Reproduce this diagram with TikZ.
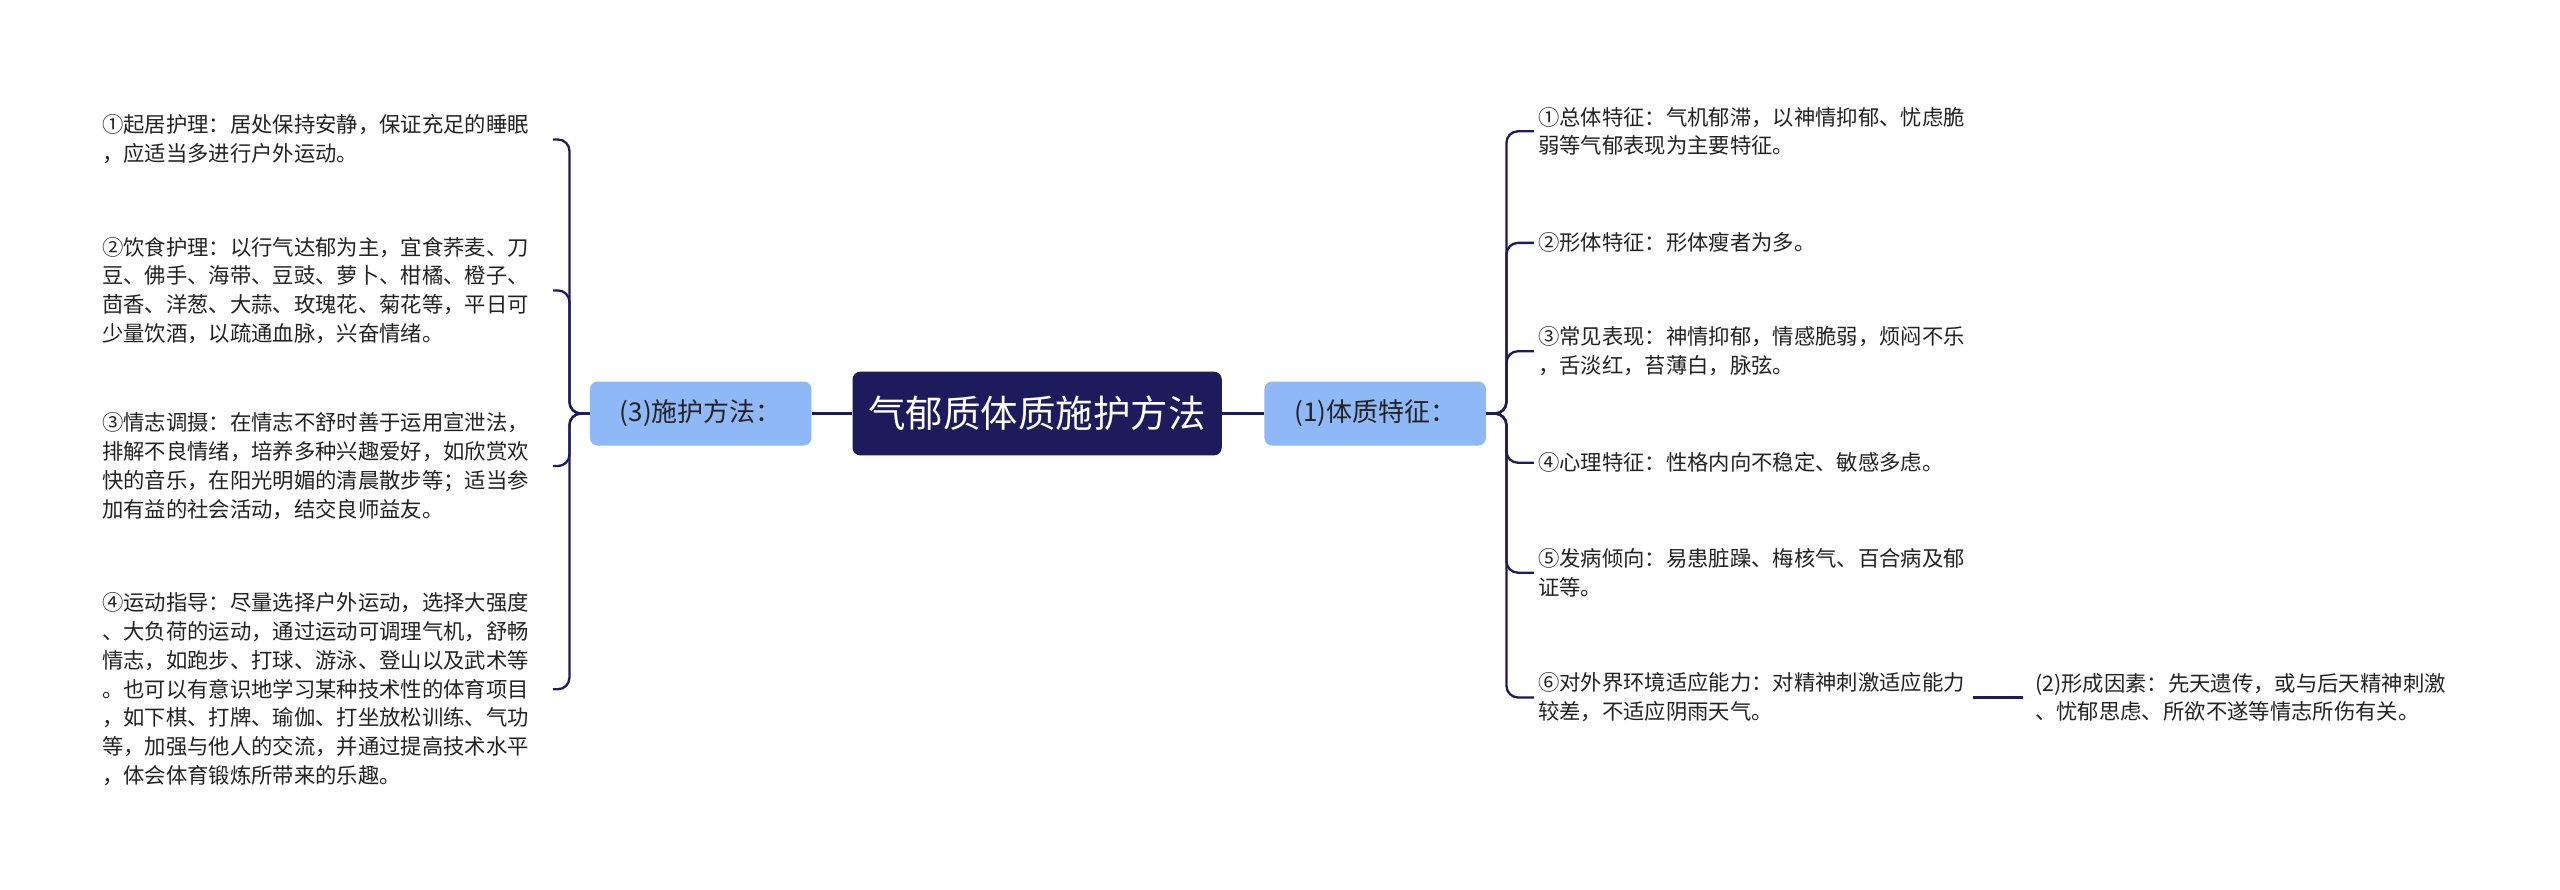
\documentclass[tikz,border=0pt]{standalone}
\usepackage{fontspec}
\newfontfamily\cjk{Noto Sans CJK SC}
\definecolor{navy}{HTML}{1C1B5C}
\definecolor{lb}{HTML}{8FB8F7}
\definecolor{tx}{HTML}{222222}
\begin{document}
\begin{tikzpicture}[x=0.03cm,y=-0.03cm,
  leaf/.style={inner sep=0pt,align=left,font=\cjk\fontsize{11.1}{15}\selectfont,text=tx},
  br/.style={fill=lb,rounded corners=4pt,minimum width=135*0.03cm,minimum height=39*0.03cm,font=\cjk\fontsize{13.5}{15}\selectfont,text=tx},
  ln/.style={draw=navy,line width=1.2pt,rounded corners=6pt}]
\useasboundingbox (0,0) rectangle (1560,542);
\node[fill=navy,rounded corners=4pt,minimum width=225*0.03cm,minimum height=51*0.03cm,text=white,font=\cjk\fontsize{19.5}{21}\selectfont] (c) at (632,252) {气郁质体质施护方法};
\node[br] (l) at (427,252) {(3)施护方法：};
\node[br] (r) at (838,252) {(1)体质特征：};
\draw[ln] (c.west) -- (l.east);
\draw[ln] (c.east) -- (r.east -| r.west);
% right leaves
\node[leaf,anchor=west] (r1) at (937,80) {①总体特征：气机郁滞，以神情抑郁、忧虑脆\\弱等气郁表现为主要特征。};
\node[leaf,anchor=west] (r2) at (937,148) {②形体特征：形体瘦者为多。};
\node[leaf,anchor=west] (r3) at (937,214) {③常见表现：神情抑郁，情感脆弱，烦闷不乐\\，舌淡红，苔薄白，脉弦。};
\node[leaf,anchor=west] (r4) at (937,282) {④心理特征：性格内向不稳定、敏感多虑。};
\node[leaf,anchor=west] (r5) at (937,349) {⑤发病倾向：易患脏躁、梅核气、百合病及郁\\证等。};
\node[leaf,anchor=west] (r6) at (937,425) {⑥对外界环境适应能力：对精神刺激适应能力\\较差，不适应阴雨天气。};
\node[leaf,anchor=west] (r7) at (1240,425) {(2)形成因素：先天遗传，或与后天精神刺激\\、忧郁思虑、所欲不遂等情志所伤有关。};
\coordinate (rb) at (918,252);
\foreach \n in {r1,r2,r3,r4,r5,r6}{\draw[ln] (r.east) -- (rb) |- ([xshift=-2pt]\n.west);}
\draw[ln] ([xshift=4pt]r6.east) -- ([xshift=-6pt]r7.west);
% left leaves
\node[leaf,anchor=west] (l1) at (62,85) {①起居护理：居处保持安静，保证充足的睡眠\\，应适当多进行户外运动。};
\node[leaf,anchor=west] (l2) at (62,177) {②饮食护理：以行气达郁为主，宜食荞麦、刀\\豆、佛手、海带、豆豉、萝卜、柑橘、橙子、\\茴香、洋葱、大蒜、玫瑰花、菊花等，平日可\\少量饮酒，以疏通血脉，兴奋情绪。};
\node[leaf,anchor=west] (l3) at (62,284) {③情志调摄：在情志不舒时善于运用宣泄法，\\排解不良情绪，培养多种兴趣爱好，如欣赏欢\\快的音乐，在阳光明媚的清晨散步等；适当参\\加有益的社会活动，结交良师益友。};
\node[leaf,anchor=west] (l4) at (62,420) {④运动指导：尽量选择户外运动，选择大强度\\、大负荷的运动，通过运动可调理气机，舒畅\\情志，如跑步、打球、游泳、登山以及武术等\\。也可以有意识地学习某种技术性的体育项目\\，如下棋、打牌、瑜伽、打坐放松训练、气功\\等，加强与他人的交流，并通过提高技术水平\\，体会体育锻炼所带来的乐趣。};
\coordinate (lb) at (347,252);
\foreach \n/\y in {l1/85,l2/177,l3/284,l4/420}{\draw[ln] (l.west) -- (lb) |- (337,\y);}
\end{tikzpicture}
\end{document}
